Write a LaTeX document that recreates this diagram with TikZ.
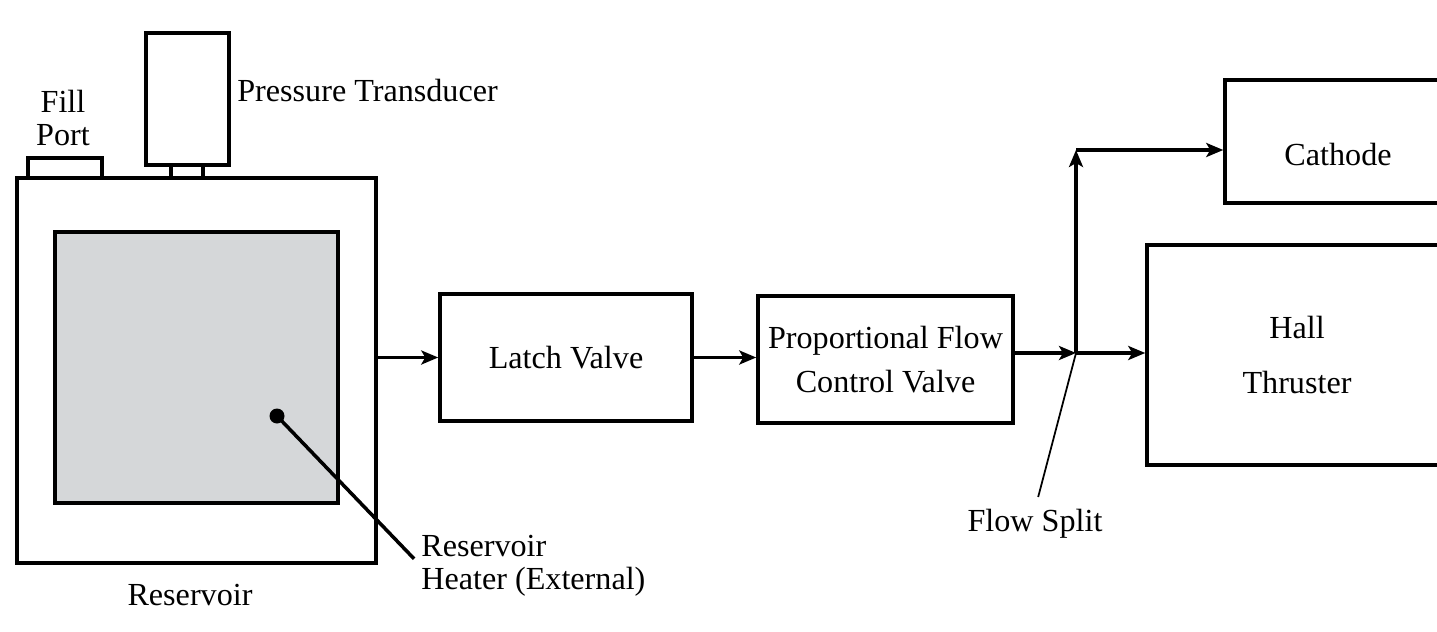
\documentclass[tikz,border=0pt]{standalone}
\usepackage{fontspec}
\setmainfont{Liberation Serif}
\usetikzlibrary{arrows.meta}
\definecolor{heatergray}{RGB}{213,215,217}
\begin{document}
\begin{tikzpicture}[x=0.02cm,y=-0.02cm,
  box/.style={draw,line width=2pt,inner sep=0pt,fill=white,font=\fontsize{18.3}{18.8}\selectfont},
  lbl/.style={inner sep=0pt,font=\fontsize{18.3}{18.8}\selectfont},
  flow/.style={line width=2pt,-{Stealth[length=0.34cm,width=0.28cm,inset=0.08cm]}},
  leader/.style={line width=1pt}]
\clip (0,0) rectangle (1437,632);
\fill[white] (0,0) rectangle (1437,632);
\node[box,minimum width=7.18cm,minimum height=7.7cm] (res) at (196.5,370.5) {};
\node[box,fill=heatergray,minimum width=5.66cm,minimum height=5.42cm] (heater) at (196.5,367.5) {};
\node[box,minimum width=1.48cm,minimum height=0.4cm] (fill) at (65,168) {};
\node[box,minimum width=1.66cm,minimum height=2.64cm] (pt) at (187.5,99) {};
\node[box,minimum width=0.64cm,minimum height=0.26cm] (neck) at (187,171.5) {};
\node[lbl,align=center] (filltxt) at (63,118) {Fill\\Port};
\node[lbl,anchor=west] (pttxt) at (237,91) {Pressure Transducer};
\node[lbl] (restxt) at (190,595) {Reservoir};
\node[circle,fill,inner sep=0pt,minimum size=0.3cm] (dot) at (277,416) {};
\node[lbl,align=left,anchor=west] (heatertxt) at (421,566) {Reservoir\\Heater (External)};
\draw[line width=2pt,shorten >=0.2cm] (dot.center) -- (heatertxt.west);
\node[box,minimum width=5.04cm,minimum height=2.54cm] (latch) at (566,357.5) {Latch Valve};
\node[box,align=center,minimum width=5.1cm,minimum height=2.54cm] (pfcv) at (885.5,359.5) {Proportional Flow\\[6.2pt]Control Valve};
\node[box,minimum width=4.52cm,minimum height=2.46cm] (cathode) at (1338,141.5) {};
\node[lbl] (cathodetxt) at (1338,155) {Cathode};
\node[box,align=center,minimum width=6cm,minimum height=4.4cm] (hall) at (1297,355) {Hall\\[12.5pt]Thruster};
\coordinate (split) at (1076,353);
\coordinate (turn) at (1076,150);
\draw[flow] (res.east |- latch.west) -- (latch.west);
\draw[flow] (latch.east) -- (latch.east -| pfcv.west);
\draw[flow] (pfcv.east |- split) -- (split);
\draw[flow] (split) -- (split -| hall.west);
\draw[flow] (split) -- (turn);
\draw[flow] (turn) -- (turn -| cathode.west);
\node[lbl] (splittxt) at (1035,524) {Flow Split};
\draw[leader,shorten >=0.25cm] (split) -- (splittxt.north);
\end{tikzpicture}
\end{document}
